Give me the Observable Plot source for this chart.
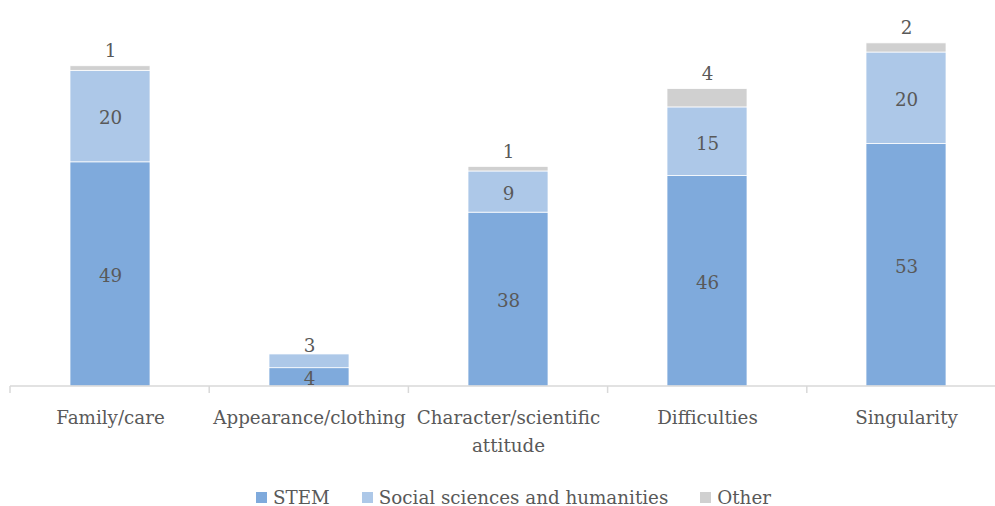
<!DOCTYPE html>
<html>
<head>
<meta charset="utf-8">
<script src="https://cdn.jsdelivr.net/npm/d3@7"></script>
<script src="https://cdn.jsdelivr.net/npm/@observablehq/plot@0.6"></script>
<style>
  html, body { margin: 0; padding: 0; background: #fff; overflow: hidden; }
  #chart { width: 995px; }
  .legend { display: flex; justify-content: center; align-items: center; height: 36px; margin-top: 9px;
    padding-left: 32px; box-sizing: border-box; width: 995px;
    font-family: "DejaVu Serif", serif; font-size: 18.3px; color: #595959; }
  .legend .item { display: flex; align-items: center; margin: 0 16px; }
  .legend .sw { width: 11px; height: 11px; margin-right: 6px; }
</style>
</head>
<body>
<div id="chart"></div>
<script>
const categories = ["Family/care", "Appearance/clothing", "Character/scientific attitude", "Difficulties", "Singularity"];
const seriesNames = ["STEM", "Social sciences and humanities", "Other"];
const stem = [49, 4, 38, 46, 53];
const social = [20, 3, 9, 15, 20];
const other = [1, 0, 1, 4, 2];
const colors = ["#7faadc", "#adc8e8", "#d0d0d0"];

const valuesBySeries = [stem, social, other];
const rows = [];
categories.forEach((cat, i) => {
  let base = 0;
  const topIdx = valuesBySeries.map(v => v[i]).reduce((t, v, j) => v > 0 ? j : t, 0);
  valuesBySeries.forEach((vals, j) => {
    const v = vals[i];
    rows.push({category: cat, series: seriesNames[j], value: v, y1: base, y2: base + v,
      mid: base + v / 2, above: j === topIdx && v < 5});
    base += v;
  });
});

const font = "DejaVu Serif";
const textColor = "#595959";

function axisBoundaries(index, scales, values, dims) {
  const sx = scales.scales.x;
  const [r0, r1] = sx.range;
  const n = sx.domain.length;
  const step = (r1 - r0) / n;
  const y0 = scales.y(0);
  const g = d3.create("svg:g");
  g.append("line").attr("x1", r0).attr("x2", r1).attr("y1", y0).attr("y2", y0)
    .attr("stroke", "#d9d9d9").attr("stroke-width", 1.5);
  for (let i = 0; i <= n; i++) {
    const x = r0 + i * step;
    g.append("line").attr("x1", x).attr("x2", x).attr("y1", y0).attr("y2", y0 + 7)
      .attr("stroke", "#d9d9d9").attr("stroke-width", 1.5);
  }
  return g.node();
}

const plot = Plot.plot({
  width: 995,
  height: 470,
  marginTop: 20,
  marginBottom: 84,
  marginLeft: 10,
  marginRight: 0,
  style: {fontFamily: font, fontSize: "18px", color: textColor, background: "#fff"},
  x: {domain: categories, range: [10, 1006], paddingInner: 0.6, paddingOuter: 0.3, label: null},
  y: {domain: [0, 80], axis: null},
  color: {domain: seriesNames, range: colors},
  marks: [
    Plot.rectY(rows.filter(d => d.value > 0), {x: "category", y1: "y1", y2: "y2", fill: "series", stroke: "#fff", strokeWidth: 0.75}),
    axisBoundaries,
    Plot.axisX({tickSize: 0, tickPadding: 17, fontSize: 18.3, lineWidth: 10, lineHeight: 1.55, fill: textColor, label: null}),
    Plot.text(rows.filter(d => d.value > 0 && !d.above), {x: "category", y: "mid", text: d => String(d.value), fill: textColor, fontSize: 18.3, dy: 2}),
    Plot.text(rows.filter(d => d.value > 0 && d.above && d.series === "Other"), {x: "category", y: "y2", text: d => String(d.value), fill: textColor, fontSize: 18.3, lineAnchor: "bottom", dy: -9}),
    Plot.text(rows.filter(d => d.value > 0 && d.above && d.series !== "Other"), {x: "category", y: "y2", text: d => String(d.value), fill: textColor, fontSize: 18.3, lineAnchor: "bottom", dy: -2})
  ]
});
document.getElementById("chart").appendChild(plot);

const legend = d3.select("#chart").append("div").attr("class", "legend");
seriesNames.forEach((s, i) => {
  const it = legend.append("div").attr("class", "item");
  it.append("div").attr("class", "sw").style("background", colors[i]);
  it.append("span").text(s);
});
</script>
</body>
</html>
